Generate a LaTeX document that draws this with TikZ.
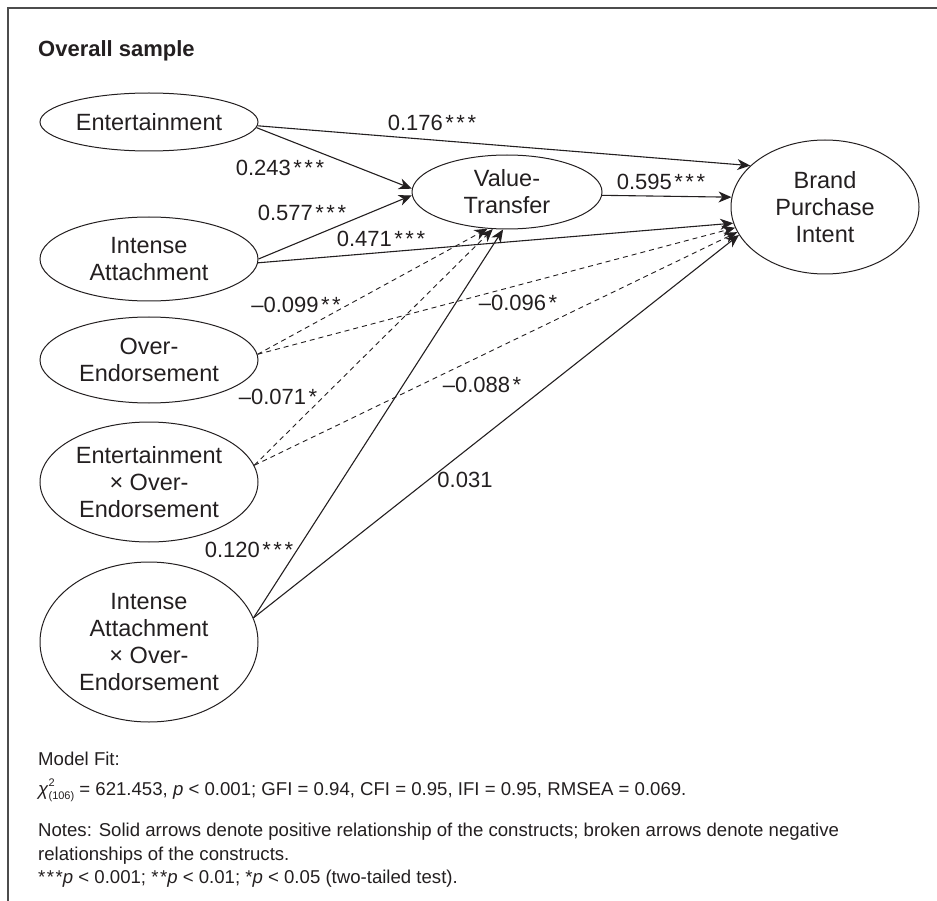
\documentclass[tikz,border=0pt]{standalone}
\usepackage{fontspec}
\setmainfont{Liberation Sans}
\usetikzlibrary{shapes.geometric,arrows.meta}
\definecolor{ink}{HTML}{231F20}
\newcommand{\sk}{\kern2.5pt*}
\begin{document}
\begin{tikzpicture}[x=1pt,y=-1pt,
  every node/.style={text=ink},
  var/.style={draw=ink, line width=1pt, shape=ellipse, inner sep=0pt, align=center, font=\fontsize{23.5}{27}\selectfont},
  coef/.style={font=\fontsize{22}{26}\selectfont, inner sep=0pt},
  posarr/.style={draw=ink, line width=1.1pt, -{Stealth[length=13pt,width=11pt,inset=4pt]}},
  negarr/.style={posarr, dash pattern=on 5pt off 4pt, line width=0.9pt},
  note/.style={font=\fontsize{18.6}{22}\selectfont, anchor=base west, inner sep=0pt}
]
\useasboundingbox (0,0) rectangle (937,901);
\draw[line width=1.5pt, draw=black!70] (8,901) -- (8,8) -- (937,8);

\node[anchor=base west, inner sep=0pt, font=\fontsize{22}{26}\selectfont\bfseries] (title) at (38,57) {Overall sample};

\node[var, minimum width=218pt, minimum height=58pt] (ent) at (149,122) {Entertainment};
\node[var, minimum width=218pt, minimum height=84pt] (ia) at (149,259) {Intense\\Attachment};
\node[var, minimum width=218pt, minimum height=86pt] (oe) at (149,360) {Over-\\Endorsement};
\node[var, minimum width=218pt, minimum height=120pt] (exo) at (149,482) {Entertainment\\× Over-\\Endorsement};
\node[var, minimum width=218pt, minimum height=160pt] (iaxo) at (149,642) {Intense\\Attachment\\× Over-\\Endorsement};
\node[var, minimum width=190pt, minimum height=74pt] (vt) at (507,192) {Value-\\Transfer};
\node[var, minimum width=188pt, minimum height=134pt] (bpi) at (825,207) {Brand\\Purchase\\Intent};

\draw[posarr] (ent.-2) -- (bpi.151);
\draw[posarr] (ent.-3) -- (vt.178);
\draw[posarr] (ia.0) -- (vt.182);
\draw[posarr] (ia.-2) -- (bpi.190);
\draw[posarr] (vt.-2) -- (bpi.174);
\draw[negarr] (oe.3) -- (vt.-118);
\draw[negarr] (oe.3) -- (bpi.193);
\draw[negarr] (exo.9) -- (vt.-111);
\draw[negarr] (exo.9) -- (bpi.196);
\draw[posarr] (iaxo.13) -- (vt.-96);
\draw[posarr] (iaxo.13) -- (bpi.198);

\node[coef] (c1) at (432,123) {0.176\sk\sk\sk};
\node[coef] (c2) at (280,168) {0.243\sk\sk\sk};
\node[coef] (c3) at (302,213) {0.577\sk\sk\sk};
\node[coef] (c4) at (381,239) {0.471\sk\sk\sk};
\node[coef] (c5) at (661,182) {0.595\sk\sk\sk};
\node[coef] (c6) at (296,305) {\textendash0.099\sk\sk};
\node[coef] (c7) at (518,303) {\textendash0.096\sk};
\node[coef] (c8) at (278,397) {\textendash0.071\sk};
\node[coef] (c9) at (482,385) {\textendash0.088\sk};
\node[coef] (c10) at (249,550) {0.120\sk\sk\sk};
\node[coef] (c11) at (465,480) {0.031};

\node[note] (n1) at (38,765) {Model Fit:};
\node[note] (n2) at (38,795) {\textit{χ}\rlap{\raisebox{0.9ex}{\fontsize{11}{12}\selectfont 2}}\raisebox{-0.45ex}{\fontsize{11}{12}\selectfont (106)} = 621.453, \textit{p} < 0.001; GFI = 0.94, CFI = 0.95, IFI = 0.95, RMSEA = 0.069.};
\node[note] (n3) at (38,836) {Notes: Solid arrows denote positive relationship of the constructs; broken arrows denote negative};
\node[note] (n4) at (38,860) {relationships of the constructs.};
\node[note] (n5) at (38,883) {*\kern1.5pt*\kern1.5pt*\textit{p} < 0.001; *\kern1.5pt*\textit{p} < 0.01; *\textit{p} < 0.05 (two-tailed test).};
\end{tikzpicture}
\end{document}
